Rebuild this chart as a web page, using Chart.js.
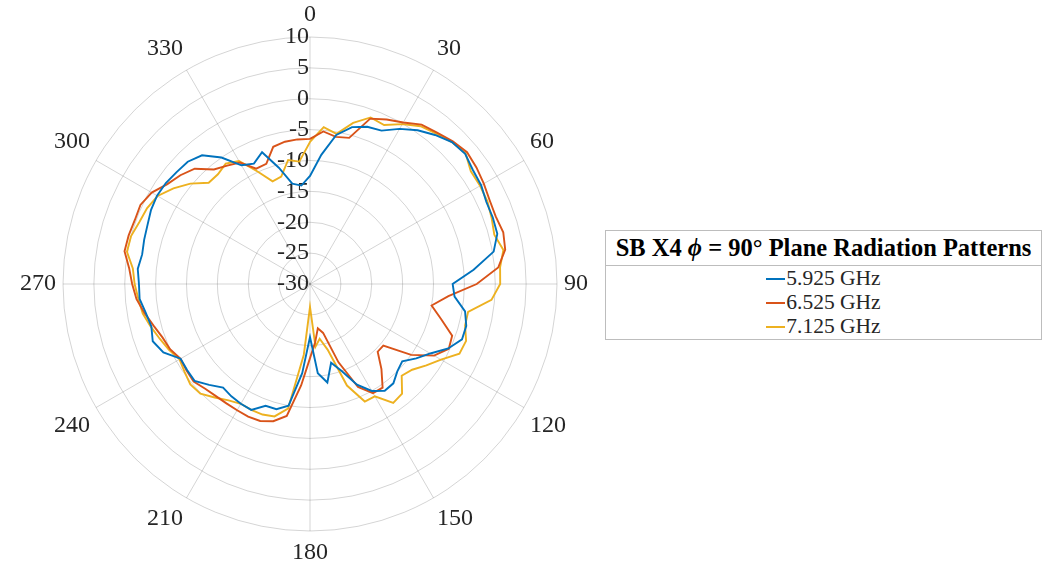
<!DOCTYPE html>
<html>
<head>
<meta charset="utf-8">
<script src="https://cdn.jsdelivr.net/npm/chart.js@4.4.1/dist/chart.umd.min.js"></script>
<style>
  body { margin: 0; background: #fff; width: 1053px; height: 568px; overflow: hidden; position: relative; font-family: "Liberation Serif", serif; }
  #wrap { position: absolute; left: -6px; top: 0; width: 620px; height: 568px; }
  #legend { position: absolute; left: 605px; top: 230px; width: 435px; height: 108px; border: 1px solid #bdbdbd; background: #fff; color: #000; }
  #legend .ttl { height: 34px; line-height: 34px; border-bottom: 1px solid #bdbdbd; text-align: center; font-weight: bold; font-size: 24.5px; white-space: nowrap; }
  #legend .item { height: 24px; line-height: 24px; font-size: 21.5px; text-align: center; white-space: nowrap; color: #262626; }
  #legend .sw { display: inline-block; width: 19px; height: 2px; vertical-align: middle; margin-right: 1px; position: relative; top: -1px; }
</style>
</head>
<body>
<div id="wrap"><canvas id="myChart"></canvas></div>
<div id="legend">
  <div class="ttl">SB X4 <i>ϕ</i> = 90° Plane Radiation Patterns</div>
  <div id="items"></div>
</div>
<script>
// angle in degrees, 0 at top, clockwise
const angles = [];
for (let a = 0; a < 360; a += 5) angles.push(a);

const rTicks = [-30, -25, -20, -15, -10, -5, 0, 5, 10];
const thetaTicks = [0, 30, 60, 90, 120, 150, 180, 210, 240, 270, 300, 330];

const seriesNames = ["5.925 GHz", "6.525 GHz", "7.125 GHz"];
const seriesColors = ["#0072BD", "#D95319", "#EDB120"];

// gain in dB, every 5 degrees from 0 to 355
const gain5925 = [
  -12.5, -9.0, -5.5, -3.7, -2.9, -2.6, -1.0, 0.4, 1.5, 2.5, 2.8, 2.2,
  2.0, 1.5, 1.5, 1.4, 0.2, -3.4, -6.9, -6.5, -4.5, -3.8, -3.8, -5.3,
  -7.5, -9.0, -10.5, -10.0, -9.0, -8.9, -10.0, -12.0, -15.0, -16.8, -13.8, -15.5,
  -21.4, -15.5, -10.0, -9.0, -9.0, -7.5, -7.6, -7.8, -8.1, -6.9, -5.6, -5.7,
  -5.8, -3.8, -2.9, -3.4, -3.0, -2.3, -2.3, -2.0, -2.4, -2.2, -2.0, -1.6,
  -1.4, -1.5, -1.8, -2.0, -2.8, -5.0, -7.8, -8.5, -7.3, -10.5, -13.5, -14.0
];
const gain6525 = [
  -6.5, -5.2, -5.8, -5.5, -1.5, -0.6, 0.2, 1.5, 2.0, 2.7, 3.2, 2.9,
  2.5, 2.1, 2.0, 2.4, 2.1, 0.6, -3.0, -7.5, -10.0, -8.0, -5.5, -5.2,
  -6.8, -10.0, -14.5, -14.5, -12.0, -9.5, -9.6, -11.6, -16.5, -21.8, -22.7, -20.5,
  -18.0, -13.5, -8.3, -7.0, -6.4, -6.3, -6.4, -6.4, -6.3, -6.0, -5.4, -5.6,
  -5.8, -5.0, -4.6, -3.8, -2.8, -1.8, -1.2, -0.6, 0.5, 0.4, 0.2, 0.3,
  -0.4, -1.8, -2.6, -3.6, -5.8, -6.6, -7.3, -9.4, -9.3, -7.0, -6.6, -6.5
];
const gain7125 = [
  -7.0, -4.5, -5.3, -3.0, -1.3, -1.6, -0.1, 1.2, 1.8, 2.5, 2.9, 1.8,
  1.8, 1.7, 1.3, 0.9, 1.8, 0.9, 0.8, -0.5, -4.0, -4.0, -3.1, -3.3,
  -5.5, -7.0, -8.4, -9.0, -6.8, -6.5, -9.0, -9.0, -12.5, -19.0, -21.0, -19.8,
  -26.3, -18.5, -9.5, -7.8, -7.5, -7.5, -7.6, -7.0, -6.0, -4.9, -4.7, -5.2,
  -5.6, -4.8, -4.1, -3.3, -2.5, -2.1, -1.6, -1.2, 0.1, 0.0, -0.6, -0.9,
  -1.5, -3.0, -4.7, -6.8, -6.8, -6.2, -7.0, -9.9, -12.3, -12.0, -9.6, -10.1
];
const gains = [gain5925, gain6525, gain7125];

const gridColor = "rgba(0,0,0,0.17)";
const textColor = "#262626";

// r-axis tick labels, drawn left of the 0 deg spoke like MATLAB does
const rTickLabels = {
  id: "rTickLabels",
  beforeDatasetsDraw(chart) {
    const s = chart.scales.r;
    const ctx = chart.ctx;
    ctx.save();
    ctx.font = '24px "Liberation Serif"';
    ctx.fillStyle = textColor;
    ctx.textAlign = "right";
    ctx.textBaseline = "middle";
    rTicks.forEach(v => {
      const p = s.getPointPositionForValue(0, v);
      ctx.fillText(String(v), s.xCenter - 1, p.y);
    });
    ctx.restore();
  }
};

const datasets = gains.map((g, i) => ({
  label: seriesNames[i],
  data: g,
  borderColor: seriesColors[i],
  borderWidth: 1.9,
  fill: false,
  pointRadius: 0,
  tension: 0
}));

const ctx = document.getElementById("myChart").getContext("2d");
const myChart = new Chart(ctx, {
  type: "radar",
  data: { labels: angles, datasets: datasets },
  plugins: [rTickLabels],
  options: {
    responsive: true,
    maintainAspectRatio: false,
    animation: false,
    layout: { padding: 0 },
    plugins: { legend: { display: false }, tooltip: { enabled: false } },
    scales: {
      r: {
        min: -30,
        max: 10,
        ticks: { stepSize: 5, display: false },
        grid: { circular: true, color: gridColor, lineWidth: 1 },
        angleLines: {
          color: c => (thetaTicks.includes(angles[c.index]) ? gridColor : "rgba(0,0,0,0)"),
          lineWidth: 1
        },
        pointLabels: {
          padding: 7,
          color: textColor,
          font: { family: '"Liberation Serif"', size: 24, lineHeight: 1.25 },
          callback: (label) => (thetaTicks.includes(label) ? String(label) : "")
        }
      }
    }
  }
});

// legend
const items = document.getElementById("items");
seriesNames.forEach((n, i) => {
  const d = document.createElement("div");
  d.className = "item";
  d.innerHTML = '<span class="sw" style="background:' + seriesColors[i] + '"></span>' + n;
  items.appendChild(d);
});
</script>
</body>
</html>
